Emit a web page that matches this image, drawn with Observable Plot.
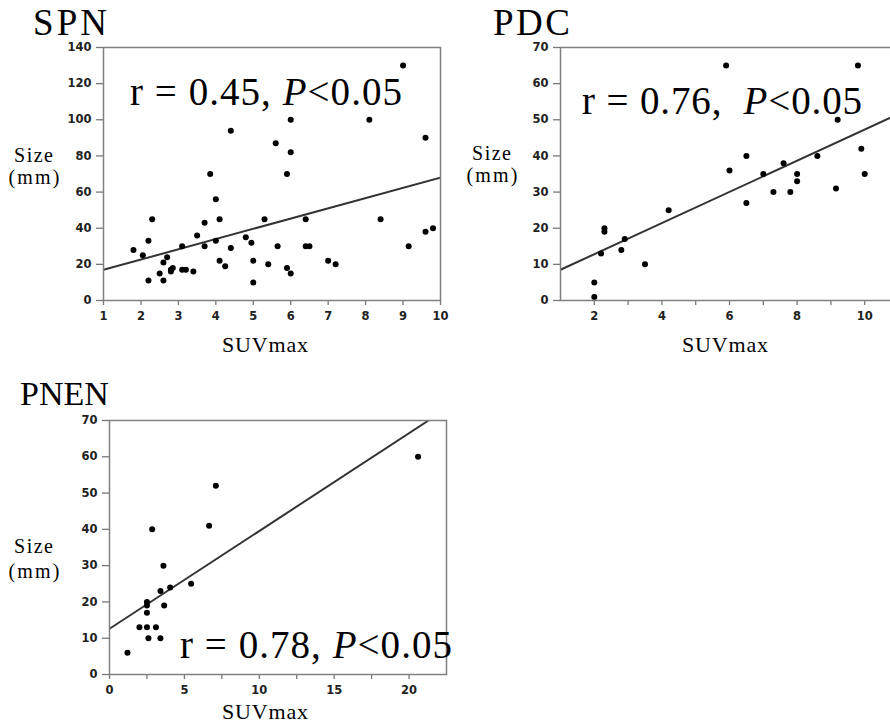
<!DOCTYPE html>
<html>
<head>
<meta charset="utf-8">
<script src="https://cdn.jsdelivr.net/npm/d3@7"></script>
<script src="https://cdn.jsdelivr.net/npm/@observablehq/plot@0.6"></script>
<style>
  html, body { margin: 0; padding: 0; background: #fff; }
  #wrap { position: relative; width: 890px; height: 723px; overflow: hidden; background: #fff; }
  .panel { position: absolute; width: 400px; }
  .panel svg { max-width: none !important; }
  #overlay { position: absolute; left: 0; top: 0; pointer-events: none; }
  #overlay text { font-family: "Liberation Serif", "Times New Roman", serif; fill: #000; }
</style>
</head>
<body>
<div id="wrap">
  <div class="panel" id="spn"></div>
  <div class="panel" id="pdc"></div>
  <div class="panel" id="pnen"></div>
  <svg id="overlay" width="890" height="723" xmlns="http://www.w3.org/2000/svg">
    <text x="33" y="35" font-size="37" textLength="74" lengthAdjust="spacing">SPN</text>
    <text x="493" y="35" font-size="37" textLength="77" lengthAdjust="spacing">PDC</text>
    <text x="20" y="405" font-size="34">PNEN</text>

    <text x="33.5" y="162" font-size="20" text-anchor="middle" textLength="39" lengthAdjust="spacing">Size</text>
    <text x="34" y="184" font-size="20" text-anchor="middle" textLength="51" lengthAdjust="spacing">(mm)</text>
    <text x="491.5" y="160" font-size="20" text-anchor="middle" textLength="39" lengthAdjust="spacing">Size</text>
    <text x="492" y="182" font-size="20" text-anchor="middle" textLength="51" lengthAdjust="spacing">(mm)</text>
    <text x="33.5" y="553" font-size="20" text-anchor="middle" textLength="39" lengthAdjust="spacing">Size</text>
    <text x="34" y="578" font-size="20" text-anchor="middle" textLength="51" lengthAdjust="spacing">(mm)</text>

    <text x="265" y="352" font-size="22" text-anchor="middle" textLength="86" lengthAdjust="spacing">SUVmax</text>
    <text x="725" y="352" font-size="22" text-anchor="middle" textLength="86" lengthAdjust="spacing">SUVmax</text>
    <text x="265" y="719" font-size="22" text-anchor="middle" textLength="86" lengthAdjust="spacing">SUVmax</text>

    <text x="130" y="105" font-size="39" textLength="272" lengthAdjust="spacing">r = 0.45, <tspan font-style="italic">P</tspan>&lt;0.05</text>
    <text x="582" y="114" font-size="39" textLength="280" lengthAdjust="spacing" xml:space="preserve">r = 0.76,  <tspan font-style="italic">P</tspan>&lt;0.05</text>
    <text x="180" y="658" font-size="39" textLength="272" lengthAdjust="spacing">r = 0.78, <tspan font-style="italic">P</tspan>&lt;0.05</text>
  </svg>
</div>
<script>
// ---------- SPN ----------
const spnSUV  = [1.8, 2.05, 2.2, 2.3, 2.2, 2.5, 2.6, 2.6, 2.7, 2.8, 2.8, 2.85, 3.1, 3.1, 3.2, 3.4, 3.5, 3.7, 3.7, 3.85, 4.0, 4.0, 4.1, 4.1, 4.25, 4.4, 4.4, 4.8, 4.95, 5.0, 5.0, 5.3, 5.4, 5.6, 5.65, 5.9, 5.9, 6.0, 6.0, 6.0, 6.4, 6.4, 6.5, 7.0, 7.2, 8.1, 8.4, 9.0, 9.15, 9.6, 9.6, 9.8];
const spnSize = [28, 25, 33, 45, 11, 15, 21, 11, 24, 16, 17, 18, 30, 17, 17, 16, 36, 43, 30, 70, 56, 33, 45, 22, 19, 94, 29, 35, 32, 22, 10, 45, 20, 87, 30, 70, 18, 100, 82, 15, 45, 30, 30, 22, 20, 100, 45, 130, 30, 90, 38, 40];
const spnLineX = [1, 10];
const spnLineY = [17, 68];
const spnXTicks = [1, 2, 3, 4, 5, 6, 7, 8, 9, 10];
const spnYTicks = [0, 20, 40, 60, 80, 100, 120, 140];

// ---------- PDC ----------
const pdcSUV  = [2.0, 2.0, 2.2, 2.3, 2.3, 2.8, 2.9, 3.5, 4.2, 5.9, 6.0, 6.5, 6.5, 7.0, 7.3, 7.6, 7.8, 8.0, 8.0, 8.6, 9.15, 9.2, 9.8, 9.9, 10.0];
const pdcSize = [5, 1, 13, 20, 19, 14, 17, 10, 25, 65, 36, 40, 27, 35, 30, 38, 30, 35, 33, 40, 31, 50, 65, 42, 35];
const pdcLineX = [1, 11];
const pdcLineY = [8.5, 51.6];
const pdcXTicks = [2, 4, 6, 8, 10];
const pdcXMinor = [3, 5, 7, 9];
const pdcYTicks = [0, 10, 20, 30, 40, 50, 60, 70];

// ---------- PNEN ----------
const pnenSUV  = [1.2, 2.0, 2.5, 2.5, 2.5, 2.5, 2.6, 2.85, 3.1, 3.4, 3.4, 3.6, 3.65, 4.05, 5.45, 6.65, 7.1, 20.6];
const pnenSize = [6, 13, 13, 20, 19, 17, 10, 40, 13, 23, 10, 30, 19, 24, 25, 41, 52, 60];
const pnenLineX = [0, 21.3];
const pnenLineY = [12.6, 70];
const pnenXTicks = [0, 5, 10, 15, 20];
const pnenXMinor = [2.5, 7.5, 12.5, 17.5];
const pnenYTicks = [0, 10, 20, 30, 40, 50, 60, 70];

const zip = (xs, ys) => xs.map((x, i) => ({x, y: ys[i]}));

const axisStyle = {fontSize: 11.5, fontWeight: "bold", fill: "#222", stroke: "#777", strokeWidth: 1.3};

function panel({suv, size, lx, ly, xDomain, yDomain, xTicks, xMinor, yTicks, plotW, plotH}) {
  const ml = 40, mr = 8, mt = 10, mb = 30;
  return Plot.plot({
    width: ml + plotW + mr,
    height: mt + plotH + mb,
    marginLeft: ml, marginRight: mr, marginTop: mt, marginBottom: mb,
    style: {background: "transparent", fontFamily: "DejaVu Sans", fontWeight: "bold", fontSize: "11.5px", color: "#222", overflow: "visible", maxWidth: "none"},
    x: {domain: xDomain, label: null},
    y: {domain: yDomain, label: null},
    marks: [
      Plot.axisX({ticks: xTicks, tickSize: 5, tickPadding: 6, label: null, ...axisStyle}),
      xMinor ? Plot.axisX({ticks: xMinor, tickSize: 5, tickFormat: () => "", label: null, ...axisStyle}) : null,
      Plot.axisY({ticks: yTicks, tickSize: 7, tickPadding: 5, label: null, ...axisStyle}),
      Plot.line(zip(lx, ly), {x: "x", y: "y", stroke: "#333", strokeWidth: 2, clip: true}),
      Plot.dot(zip(suv, size), {x: "x", y: "y", r: 3, fill: "#000", stroke: "none"}),
      Plot.frame({stroke: "#808080", strokeWidth: 1.5})
    ]
  });
}

function place(id, left, top, node) {
  const el = document.getElementById(id);
  el.style.left = left + "px";
  el.style.top = top + "px";
  el.appendChild(node);
}

place("spn", 63, 37, panel({
  suv: spnSUV, size: spnSize, lx: spnLineX, ly: spnLineY,
  xDomain: [1, 10], yDomain: [0, 140], xTicks: spnXTicks, xMinor: null, yTicks: spnYTicks,
  plotW: 337, plotH: 253
}));
place("pdc", 520, 37, panel({
  suv: pdcSUV, size: pdcSize, lx: pdcLineX, ly: pdcLineY,
  xDomain: [1, 11], yDomain: [0, 70], xTicks: pdcXTicks, xMinor: pdcXMinor, yTicks: pdcYTicks,
  plotW: 338, plotH: 253
}));
place("pnen", 69, 410, panel({
  suv: pnenSUV, size: pnenSize, lx: pnenLineX, ly: pnenLineY,
  xDomain: [0, 22.5], yDomain: [0, 70], xTicks: pnenXTicks, xMinor: pnenXMinor, yTicks: pnenYTicks,
  plotW: 337, plotH: 254
}));
</script>
</body>
</html>
